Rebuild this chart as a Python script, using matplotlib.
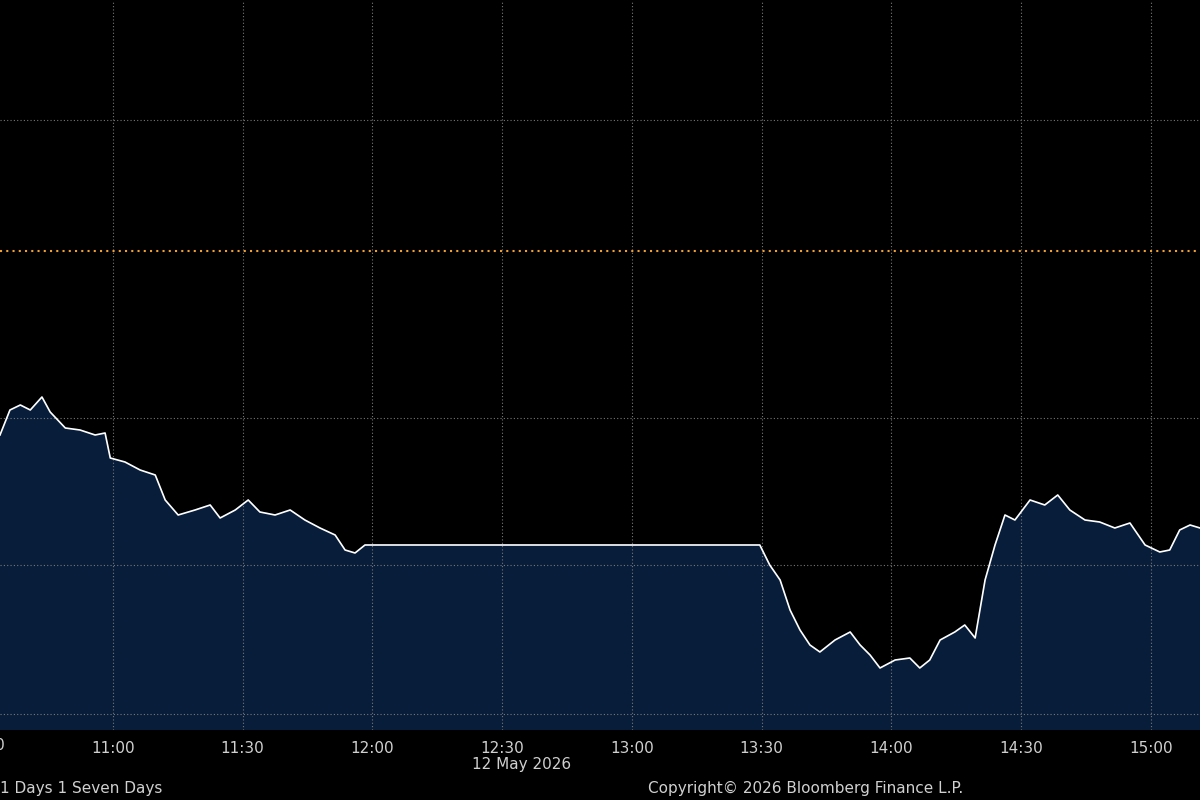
import matplotlib
matplotlib.use("Agg")
import matplotlib.pyplot as plt

minutes = [3.9,6.2,8.6,10.9,13.6,15.5,19.0,22.4,25.9,28.2,29.4,32.8,36.3,39.8,42.1,45.1,49.0,52.5,54.8,58.3,61.3,64.0,67.5,71.0,74.4,77.9,81.4,83.7,86.0,88.3,
           179.6,181.9,184.3,186.6,188.9,191.2,193.5,197.0,200.5,202.8,205.1,207.4,210.9,214.3,216.6,218.9,221.3,224.7,227.0,229.4,231.7,234.0,236.3,238.6,242.1,245.5,248.5,251.3,254.8,258.2,261.7,265.2,268.7,272.1,274.4,276.7,279.1,281.4]
pix = [435,410,405,410,397,412,428,430,435,433,458,462,470,475,500,515,510,505,518,510,500,512,515,510,520,528,535,550,553,545,
       545,565,580,610,630,645,652,640,632,645,655,668,660,658,668,660,640,632,625,638,580,545,515,520,500,505,495,510,520,522,528,523,545,552,550,530,525,528]
values = [714 - p for p in pix]
ref_level = 463
tick_pos = [0,30,60,90,120,150,180,210,240,270]
tick_labels = ["10:30","11:00","11:30","12:00","12:30","13:00","13:30","14:00","14:30","15:00"]

fig = plt.figure(figsize=(12,8), dpi=100, facecolor="black")
ax = fig.add_axes([0, 0.0875, 1, 0.9125], facecolor="black")
ax.fill_between(minutes, values, -100, color="#081d3a")
ax.plot(minutes, values, color="white", lw=1.2)
ax.axhline(ref_level, color="#f0a030", ls=(0,(1,2)), lw=1.5)
ax.set_xlim(3.9, 281.4)
ax.set_ylim(-16, 714)
ax.set_yticks([0,149,296,594])
ax.set_xticks(tick_pos[1:])
ax.set_xticklabels(tick_labels[1:], color="#d0d0d0", fontsize=11)
ax.tick_params(axis="y", left=False, labelleft=False)
ax.tick_params(axis="x", length=0, pad=8)
ax.grid(True, color="#777777", ls=(0,(1,2)), lw=0.8)
for s in ax.spines.values():
    s.set_visible(False)
fig.text(-17/1200, 1-745/800, tick_labels[0], color="#d0d0d0", fontsize=11, ha="center", va="center")
fig.text(522/1200, 1-765/800, "12 May 2026", color="#d0d0d0", fontsize=11, ha="center", va="center")
fig.text(0, 1-788/800, "1 Days 1 Seven Days", color="#d0d0d0", fontsize=11, ha="left", va="center")
fig.text(648/1200, 1-788/800, "Copyright\u00a9 2026 Bloomberg Finance L.P.", color="#d0d0d0", fontsize=11, ha="left", va="center")
fig.savefig("out.png", facecolor="black")
